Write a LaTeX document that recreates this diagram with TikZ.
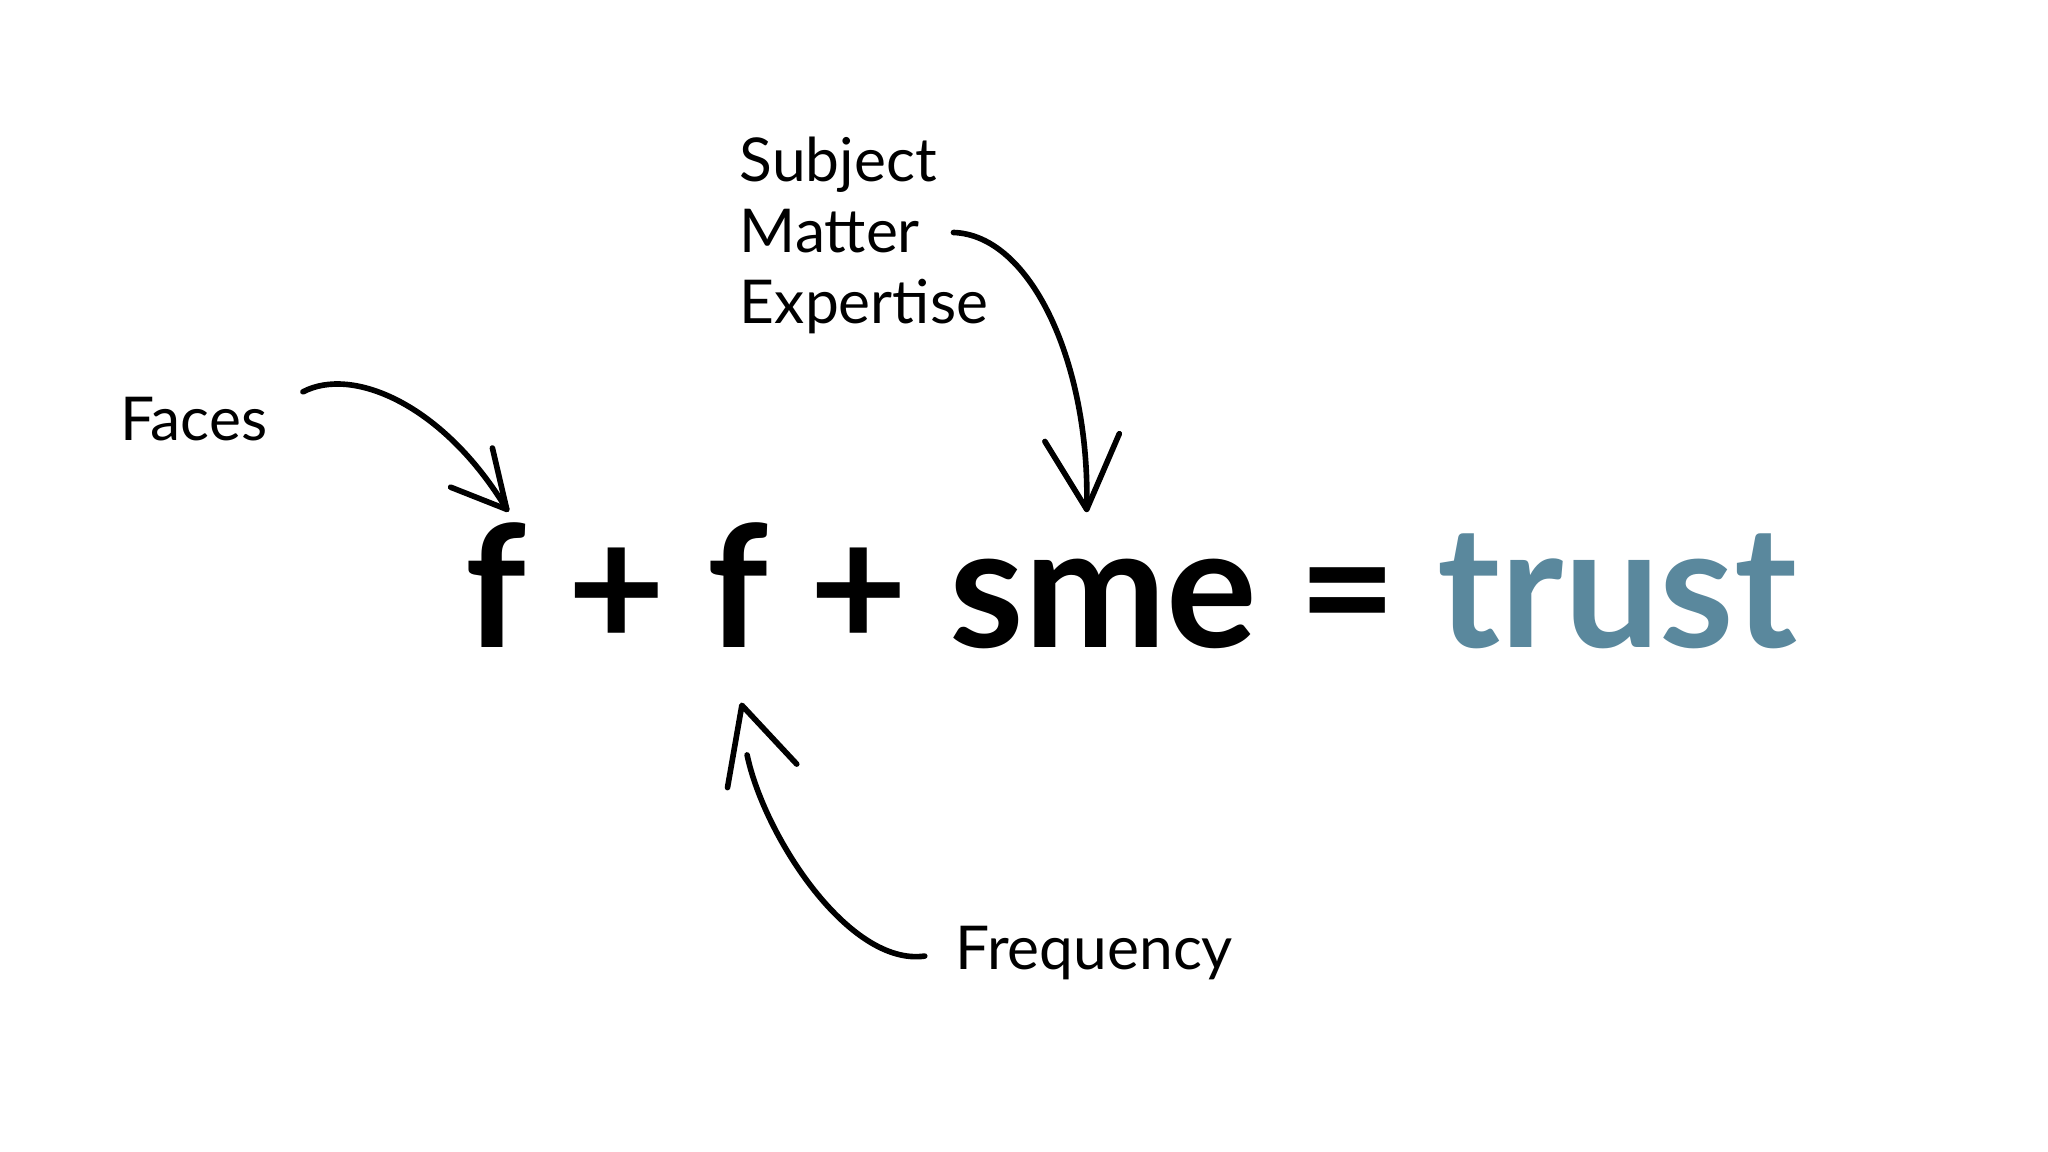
\documentclass[tikz,border=0pt]{standalone}
\usepackage{fontspec}
\setmainfont{Lato}
\definecolor{trustc}{HTML}{5A889D}
\begin{document}
\begin{tikzpicture}[x=0.01306cm,y=-0.01306cm,
  lbl/.style={font=\fontsize{17.2}{21}\selectfont, inner sep=0, anchor=west, align=left},
  hand/.style={line width=1.6pt, line cap=round, line join=round}]
\useasboundingbox[fill=white] (0,0) rectangle (1568,882);
\node[anchor=base west, inner sep=0, font=\fontsize{48.3}{58}\selectfont\bfseries] (eq) at (356,496) {f + f + sme = \textcolor{trustc}{trust}};
\node[lbl] (faces) at (92,321) {Faces};
\node[lbl, anchor=north west] (sme) at (566,104) {Subject\\[-0.8pt]Matter\\[-0.8pt]Expertise};
\node[lbl] (freq) at (731,730) {Frequency};
\coordinate (a1s) at (232,300); \coordinate (a1e) at (388,390);
\draw[hand] (a1s) .. controls (270,280) and (340,310) .. (a1e);
\draw[hand] (345,373) -- (a1e) -- (377,343);
\coordinate (a2s) at (730,178); \coordinate (a2e) at (832,390);
\draw[hand] (a2s) .. controls (790,180) and (835,280) .. (a2e);
\draw[hand] (800,338) -- (a2e) -- (857,332);
\coordinate (a3s) at (708,732); \coordinate (a3e) at (568,540);
\draw[hand] (a3s) .. controls (650,740) and (585,640) .. (572,578);
\draw[hand] (557,603) -- (a3e) -- (610,585);
\end{tikzpicture}
\end{document}
